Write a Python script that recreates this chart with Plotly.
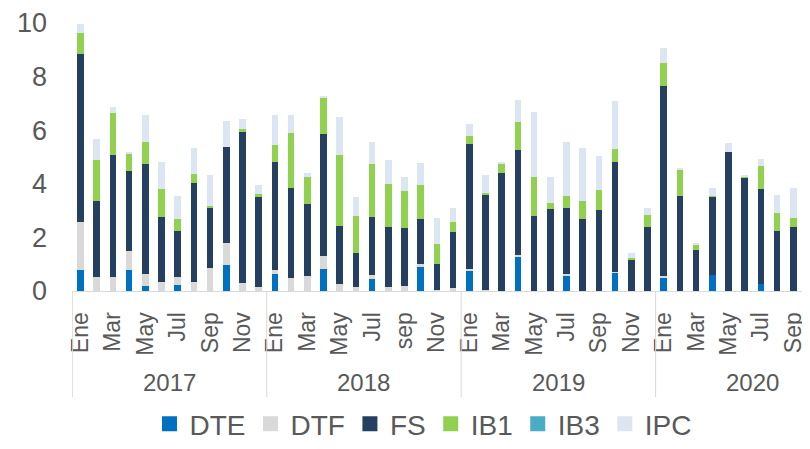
import plotly.graph_objects as go

years = ["2017", "2018", "2019", "2020"]
months_per_year = [12, 12, 12, 10]
tick_labels = ["Ene", "Mar", "May", "Jul", "Sep", "Nov",
               "Ene", "Mar", "May", "Jul", "sep", "Nov",
               "Ene", "Mar", "May", "Jul", "Sep", "Nov",
               "Ene", "Mar", "May", "Jul", "Sep"]

DTE = [0.78, 0, 0, 0.77, 0.20, 0, 0.22, 0, 0, 0.96, 0, 0,
       0.65, 0, 0, 0.82, 0, 0, 0.45, 0, 0, 0.90, 0, 0,
       0.75, 0, 0, 1.29, 0, 0, 0.59, 0, 0, 0.68, 0, 0,
       0.52, 0, 0, 0.59, 0, 0, 0.28, 0, 0, 0.49]
DTF = [1.78, 0.53, 0.53, 0.71, 0.42, 0.33, 0.29, 0.34, 0.84, 0.84, 0.31, 0.16,
       0.15, 0.47, 0.55, 0.50, 0.28, 0.16, 0.13, 0.14, 0.18, 0.12, 0.05, 0.11,
       0.07, 0.02, 0, 0.05, 0, 0, 0.04, 0, 0, 0.03, 0, 0,
       0.03, 0, 0, 0, 0, 0, 0, 0, 0, 0]
FS = [6.27, 2.83, 4.55, 3.01, 4.11, 2.45, 1.72, 3.69, 2.27, 3.59, 5.63, 3.36,
      4.03, 3.36, 2.69, 4.52, 2.16, 1.25, 2.20, 2.23, 2.16, 1.68, 0.94, 2.08,
      4.65, 3.55, 4.42, 3.93, 2.80, 3.05, 2.48, 2.70, 3.03, 4.10, 1.17, 2.37,
      7.09, 3.54, 1.52, 2.92, 5.17, 4.22, 3.53, 2.24, 2.39, 1.55]
IB1 = [0.80, 1.51, 1.57, 0.65, 0.82, 1.03, 0.47, 0.34, 0.06, 0, 0.09, 0.11,
       0.62, 2.07, 1.01, 1.37, 2.62, 1.38, 1.95, 1.63, 1.39, 1.24, 0.76, 0.40,
       0.31, 0.10, 0.34, 1.04, 1.44, 0.23, 0.43, 0.66, 0.73, 0.48, 0.08, 0.48,
       0.88, 1.01, 0.19, 0.02, 0, 0.07, 0.85, 0.66, 0.34, 0.85]
IB3 = [0] * 46
IPC = [0.32, 0.79, 0.21, 0.04, 1.03, 0.99, 0.85, 0.95, 1.15, 0.96, 0.37, 0.32,
       1.13, 0.68, 0.15, 0.06, 1.43, 0.72, 0.82, 0.87, 0.51, 0.82, 0.99, 0.52,
       0.44, 0.66, 0.06, 0.80, 2.44, 0.97, 2.02, 1.96, 1.26, 1.81, 0.18, 0.26,
       0.53, 0.04, 0.09, 0.32, 0.35, 0.03, 0.28, 0.68, 1.11, 1.33]

series_names = ["DTE", "DTF", "FS", "IB1", "IB3", "IPC"]
series_values = [DTE, DTF, FS, IB1, IB3, IPC]
series_colors = ["#0070C0", "#D9D9D9", "#243F60", "#92D050", "#4BACC6", "#DCE6F2"]

n = sum(months_per_year)
x = list(range(n))

FONT = "Liberation Sans, Arial, sans-serif"
GRAY = "#595959"

fig = go.Figure()
for name, vals, color in zip(series_names, series_values, series_colors):
    fig.add_trace(go.Bar(x=x, y=vals, name=name, legendgroup=name, showlegend=False,
                         marker=dict(color=color, line=dict(width=0))))
# legend entries with larger square swatches
for name, color in zip(series_names, series_colors):
    fig.add_trace(go.Scatter(x=[None], y=[None], mode="markers", name=name, legendgroup=name,
                             marker=dict(symbol="square", size=15, color=color), showlegend=True))

shapes = []
annotations = []
start = 0
for yr, m in zip(years, months_per_year):
    shapes.append(dict(type="line", xref="x", yref="paper", x0=start - 0.5, x1=start - 0.5,
                       y0=0, y1=-0.3955, line=dict(color="#D9D9D9", width=1)))
    annotations.append(dict(text=yr, xref="x", yref="paper", x=start + 5.5,
                            y=-0.3396, yanchor="middle", showarrow=False,
                            font=dict(family=FONT, size=24, color=GRAY)))
    start += m

# page body adds an 8px margin around the figure
fig.update_layout(
    barmode="stack",
    bargap=0.59,
    width=802, height=433,
    margin=dict(l=64, r=0, t=15, b=150, autoexpand=False),
    paper_bgcolor="white", plot_bgcolor="white",
    font=dict(family=FONT, color=GRAY),
    shapes=shapes, annotations=annotations,
    legend=dict(orientation="h", x=0.4756, xanchor="center", y=-0.496, yanchor="middle",
                font=dict(family=FONT, size=28, color=GRAY), traceorder="normal",
                itemclick=False),
    xaxis=dict(range=[-0.52, 45.03], tickvals=list(range(0, n, 2)), ticktext=tick_labels,
               tickangle=-90, showgrid=False, zeroline=False, showline=True,
               linecolor="#D9D9D9", linewidth=1, ticks="", automargin=False,
               ticklabelstandoff=11, ticklabeloverflow="allow",
               tickfont=dict(family=FONT, size=23, color=GRAY)),
    yaxis=dict(range=[0, 10], tickvals=[0, 2, 4, 6, 8, 10], showgrid=False, zeroline=False,
               showline=False, ticks="", ticklabelstandoff=24, automargin=False,
               ticklabeloverflow="allow",
               tickfont=dict(family=FONT, size=27, color=GRAY)),
)

fig.write_html("out.html")
